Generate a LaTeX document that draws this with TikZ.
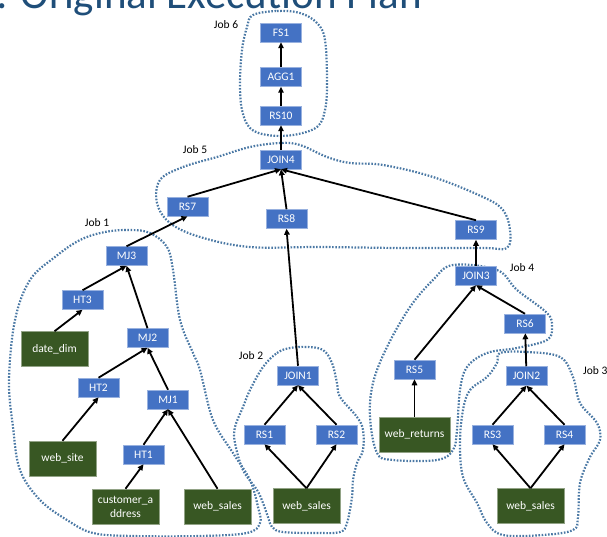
\documentclass[tikz,border=0pt]{standalone}
\usepackage{fontspec}
\setmainfont{Carlito}
\usetikzlibrary{arrows.meta}
\definecolor{opblue}{HTML}{4472C4}
\definecolor{tblgreen}{HTML}{385723}
\definecolor{dotblue}{HTML}{4A78A4}
\definecolor{titleblue}{HTML}{1F4E79}
\tikzset{
  op/.style={fill=opblue, draw=opblue!55!white, line width=0.5pt, text=white,
    minimum width=41pt, minimum height=19pt, inner sep=0pt,
    font=\fontsize{11.5}{14}\selectfont},
  tbl/.style={fill=tblgreen, draw=tblgreen!55!white, line width=0.5pt, text=white,
    minimum width=67pt, minimum height=35pt, inner sep=0pt, align=center,
    font=\fontsize{11.5}{14}\selectfont},
  joblbl/.style={inner sep=0pt, font=\fontsize{11.5}{14}\selectfont},
  flow/.style={-{Triangle[length=6pt,width=5.5pt]}, line width=1.8pt},
  blob/.style={draw=dotblue, line width=2.2pt, dash pattern=on 1.6pt off 1.6pt}
}
\begin{document}
\begin{tikzpicture}[x=1pt,y=-1pt]
\useasboundingbox (0,0) rectangle (607,537);

% title (cut off at the top)
\node[anchor=base west, inner sep=0pt, text=titleblue,
  font=\fontsize{43}{50}\selectfont] (title) at (-4,9) {: Original Execution Plan};

% job outlines
\draw[blob] plot[smooth cycle, tension=0.6] coordinates {(253,15) (277,11) (300,13) (317,23) (325,40) (327,83) (325,110) (317,127) (293,135) (267,135) (250,128) (242,110) (240,83) (242,50) (247,27)};
\draw[blob] plot[smooth cycle, tension=0.6] coordinates {(160,180) (183,167) (217,157) (250,147) (280,143) (300,145) (327,157) (350,163) (383,165) (433,177) (483,197) (503,210) (510,230) (507,248) (483,248) (400,248) (320,247) (250,247) (200,237) (170,223) (157,203)};
\draw[blob] plot[smooth cycle, tension=0.6] coordinates {(130,230) (150,233) (167,247) (173,270) (180,320) (193,353) (200,370) (213,420) (233,453) (250,480) (258,507) (260,523) (247,533) (200,536) (133,536) (93,533) (67,520) (40,500) (20,470) (13,427) (9,380) (15,320) (30,280) (55,257) (80,240) (105,232)};
\draw[blob] plot[smooth cycle, tension=0.6] coordinates {(263,367) (277,353) (290,348) (307,347) (323,350) (332,363) (337,383) (340,397) (357,417) (363,430) (363,450) (357,463) (353,480) (352,497) (347,523) (340,532) (317,533) (283,532) (272,527) (268,517) (263,503) (257,490) (243,470) (235,443) (235,427) (243,407) (250,390)};
\draw[blob] plot[smooth cycle, tension=0.6] coordinates {(453,265) (497,270) (517,290) (547,313) (552,327) (547,340) (517,348) (487,353) (467,367) (460,390) (457,430) (453,450) (437,460) (393,460) (377,453) (370,417) (373,383) (387,347) (410,307) (433,280)};
\draw[blob] plot[smooth cycle, tension=0.6] coordinates {(500,353) (527,352) (560,357) (573,377) (580,403) (597,423) (600,440) (590,457) (580,483) (578,517) (573,530) (543,535) (503,535) (487,523) (477,503) (463,477) (460,443) (463,410) (470,390) (487,377) (497,363)};

% job labels
\node[joblbl] (j6) at (226,25) {Job 6};
\node[joblbl] (j5) at (195,150) {Job 5};
\node[joblbl] (j1) at (97,223) {Job 1};
\node[joblbl] (j2) at (251,356) {Job 2};
\node[joblbl] (j4) at (522,268) {Job 4};
\node[joblbl, anchor=west] (j3) at (583,371) {Job 3};

% operators
\node[op] (fs1) at (281,32.5) {FS1};
\node[op] (agg1) at (281,77) {AGG1};
\node[op] (rs10) at (281,115.5) {RS10};
\node[op] (join4) at (281,159.5) {JOIN4};
\node[op] (rs7) at (187.5,206.5) {RS7};
\node[op] (rs8) at (286.5,219) {RS8};
\node[op] (rs9) at (476,230) {RS9};
\node[op] (join3) at (476,275.5) {JOIN3};
\node[op] (rs6) at (525,323.5) {RS6};
\node[op] (rs5) at (414.5,369.5) {RS5};
\node[op] (join2) at (526.5,376) {JOIN2};
\node[op] (rs3) at (492.5,434.5) {RS3};
\node[op] (rs4) at (564.5,434.5) {RS4};
\node[op] (join1) at (298,375.5) {JOIN1};
\node[op] (rs1) at (264.5,434.5) {RS1};
\node[op] (rs2) at (336.5,434.5) {RS2};
\node[op] (mj3) at (126.5,256) {MJ3};
\node[op] (ht3) at (82.5,300) {HT3};
\node[op] (mj2) at (147.5,338) {MJ2};
\node[op] (ht2) at (98.5,387.5) {HT2};
\node[op] (mj1) at (168,399.5) {MJ1};
\node[op] (ht1) at (143.5,454.5) {HT1};

% tables
\node[tbl, minimum width=71pt] (wr) at (414.5,434.5) {web\_returns};
\node[tbl] (ws3) at (530.5,506) {web\_sales};
\node[tbl] (ws2) at (306.5,506) {web\_sales};
\node[tbl] (dd) at (54.5,349) {date\_dim};
\node[tbl] (wsite) at (62.5,458.5) {web\_site};
\node[tbl] (ca) at (125.5,506.5) {customer\_a\\ddress};
\node[tbl] (ws1) at (217.5,506.5) {web\_sales};

% data flow
\draw[flow] (agg1) -- (fs1);
\draw[flow] (rs10) -- (agg1);
\draw[flow] (join4) -- (rs10);
\draw[flow] (rs7.north) -- (join4.south);
\draw[flow] (rs8.north) -- (join4.south);
\draw[flow] (rs9.north) -- (join4.south);
\draw[flow] (mj3.north) -- (rs7.south);
\draw[flow] (join1.north) -- (rs8.south);
\draw[flow] (join3) -- (rs9);
\draw[flow] (rs5.north) -- (join3.south);
\draw[flow] (rs6.north) -- (join3.south);
\draw[flow] (wr) -- (rs5);
\draw[flow] (join2) -- (rs6);
\draw[flow] (rs3.north) -- (join2.south);
\draw[flow] (rs4.north) -- (join2.south);
\draw[flow] (ws3.north) -- (rs3.south);
\draw[flow] (ws3.north) -- (rs4.south);
\draw[flow] (rs1.north) -- (join1.south);
\draw[flow] (rs2.north) -- (join1.south);
\draw[flow] (ws2.north) -- (rs1.south);
\draw[flow] (ws2.north) -- (rs2.south);
\draw[flow] (ht3.north) -- (mj3.south);
\draw[flow] (mj2.north) -- (mj3.south);
\draw[flow] (dd.north) -- (ht3.south);
\draw[flow] (ht2.north) -- (mj2.south);
\draw[flow] (mj1.north) -- (mj2.south);
\draw[flow] (wsite.north) -- (ht2.south);
\draw[flow] (ht1.north) -- (mj1.south);
\draw[flow] (ws1.north) -- (mj1.south);
\draw[flow] (ca.north) -- (ht1.south);
\end{tikzpicture}
\end{document}
